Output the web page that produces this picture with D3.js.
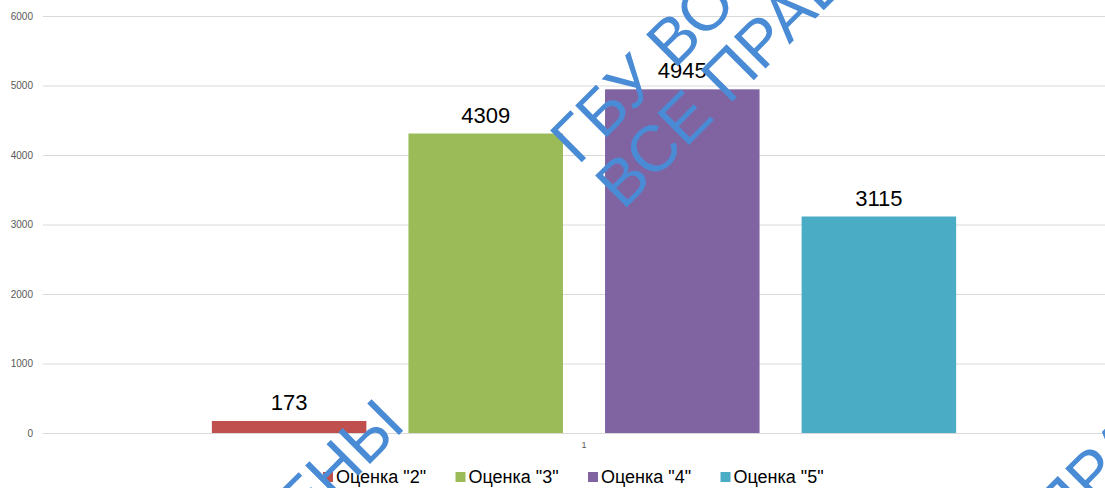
<!DOCTYPE html>
<html><head><meta charset="utf-8">
<script src="https://cdn.jsdelivr.net/npm/d3@7"></script>
<style>html,body{margin:0;padding:0;background:#fff;}svg{display:block;}</style>
</head><body>
<svg id="chart" width="1105" height="488"></svg>
<script>
const categories = ["1"];
const seriesNames = ['Оценка "2"', 'Оценка "3"', 'Оценка "4"', 'Оценка "5"'];
const seriesValues = [173, 4309, 4945, 3115];
const seriesColors = ["#C0504D", "#9BBB59", "#8064A2", "#4BACC6"];
const yTicks = [0, 1000, 2000, 3000, 4000, 5000, 6000];

const svg = d3.select("#chart");
const W = 1105, H = 488;
const plotLeft = 43, plotRight = 1125, plotTop = 16, plotBottom = 433;

const y = d3.scaleLinear().domain([0, 6000]).range([plotBottom, plotTop]);
const x0 = d3.scaleBand().domain(categories).range([plotLeft, plotRight]).paddingOuter(0.188).paddingInner(0);
const x1 = d3.scaleBand().domain(seriesNames).range([0, x0.bandwidth()]).paddingInner(0.214).paddingOuter(0.107);

// gridlines
const yAxis = d3.axisLeft(y).tickValues(yTicks).tickSize(-(W - plotLeft)).tickPadding(10).tickFormat(d3.format("d"));
const gy = svg.append("g").attr("transform", `translate(${plotLeft},0)`).call(yAxis);
gy.select(".domain").remove();
gy.selectAll(".tick line").attr("stroke", "#d9d9d9").attr("stroke-width", 1);
gy.selectAll(".tick text").attr("fill", "#595959").style("font-family", "Liberation Sans, Arial, sans-serif").style("font-size", "10px");

// bars
const g = svg.append("g");
categories.forEach(cat => {
  seriesNames.forEach((s, i) => {
    const bx = x0(cat) + x1(s);
    g.append("rect").attr("x", bx).attr("y", y(seriesValues[i]))
      .attr("width", x1.bandwidth()).attr("height", y(0) - y(seriesValues[i]))
      .attr("fill", seriesColors[i]);
    g.append("text").attr("x", bx + x1.bandwidth() / 2).attr("y", y(seriesValues[i]) - 11)
      .attr("text-anchor", "middle").attr("fill", "#000")
      .style("font-family", "Liberation Sans, Arial, sans-serif").style("font-size", "22px")
      .text(seriesValues[i]);
  });
});

// x axis category label
const xAxis = d3.axisBottom(x0).tickSize(0).tickPadding(9);
const gx = svg.append("g").attr("transform", `translate(0,${plotBottom})`).call(xAxis);
gx.select(".domain").remove();
gx.selectAll(".tick text").attr("fill", "#595959").style("font-family", "Liberation Sans, Arial, sans-serif").style("font-size", "9px");

// legend
const legendX = d3.scaleBand().domain(seriesNames).range([323, 853]);
const leg = svg.append("g");
seriesNames.forEach((s, i) => {
  const lx = legendX(s);
  leg.append("rect").attr("x", lx).attr("y", 472).attr("width", 10).attr("height", 10).attr("fill", seriesColors[i]);
  leg.append("text").attr("x", lx + 13).attr("y", 483).attr("fill", "#000")
    .style("font-family", "Liberation Sans, Arial, sans-serif").style("font-size", "18px").text(s);
});

// watermark
const wm = svg.append("g").attr("fill", "#4a8bd6").style("font-family", "Liberation Sans, Arial, sans-serif").style("font-size", "65px");
wm.append("text").attr("transform", "translate(578,166) rotate(-45)").text("ГБУ ВО");
wm.append("text").attr("transform", "translate(623,211) rotate(-45)").text("ВСЕ ПРАВА");
wm.append("text").attr("transform", "translate(407,427) rotate(-45)").attr("text-anchor", "end").text("ЗАЩИЩЕНЫ");
wm.append("text").attr("transform", "translate(1060,537) rotate(-45)").text("ПРАВА");
</script>
</body></html>
